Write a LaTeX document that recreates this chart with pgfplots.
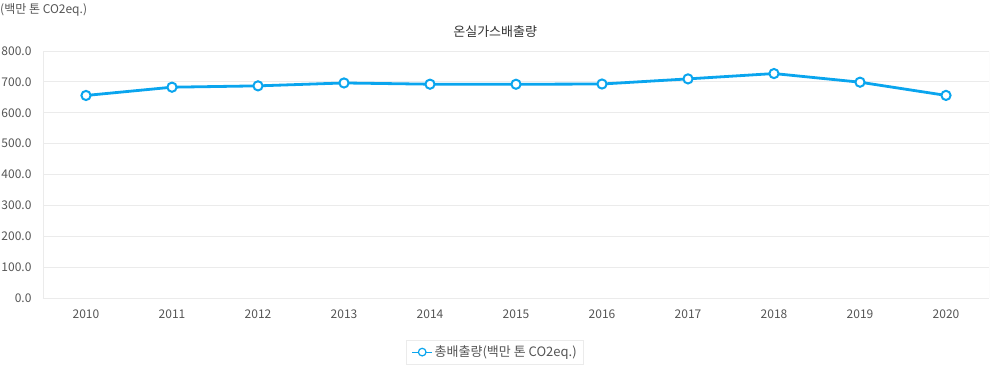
\documentclass[border=0pt]{standalone}
\usepackage{pgfplots}
\pgfplotsset{compat=1.18}
\usepackage{fontspec}
\setmainfont{Noto Sans CJK KR}
\definecolor{lineblue}{HTML}{0AA5EE}
\definecolor{txt}{HTML}{555555}
\definecolor{gridc}{HTML}{EBEBEB}
\begin{document}
\begin{tikzpicture}[x=1pt,y=1pt]
\path[use as bounding box] (0,0) rectangle (990,-368);
\node[anchor=west,text=txt,font=\fontsize{12}{14}\selectfont,inner sep=0pt] at (0,-10) {(백만 톤 CO2eq.)};
\begin{axis}[
  at={(43pt,-298pt)}, anchor=south west,
  scale only axis, width=946pt, height=247pt,
  xmin=-0.5, xmax=10.5, ymin=0, ymax=800,
  xtick={0,...,10},
  xticklabels={2010,2011,2012,2013,2014,2015,2016,2017,2018,2019,2020},
  ytick={0,100,...,800},
  /pgf/number format/fixed,
  /pgf/number format/fixed zerofill,
  /pgf/number format/precision=1,
  /pgf/number format/assume math mode=true,
  tick label style={text=txt,font=\fontsize{12}{14}\selectfont},
  xticklabel style={yshift=-8pt},
  yticklabel style={xshift=-8pt},
  major tick length=0pt,
  ymajorgrids, grid style={gridc,line width=0.8pt},
  axis line style={gridc,line width=0.8pt},
  separate axis lines,
  y axis line style={draw=none},
  x axis line style={gridc},
  axis x line*=bottom,
  title={온실가스배출량},
  title style={text=txt!60!black,font=\fontsize{13}{15}\selectfont,at={(0.478,1)},yshift=4pt},
  legend style={at={(0.478,-0.219)},anchor=center,draw=gridc,line width=0.8pt,
    font=\fontsize{13}{15}\selectfont,text=txt,inner xsep=5pt,inner ysep=4pt},
  legend cell align=left,
  legend image code/.code={
    \draw[lineblue,line width=1pt] (0pt,0pt) -- (20pt,0pt);
    \draw[lineblue,line width=1.2pt,fill=white] (10pt,0pt) circle (3.8pt);
  },
]
\addplot[lineblue,line width=2.8pt,mark=*,mark size=4.6pt,
  mark options={fill=white,draw=lineblue,line width=2pt}]
  coordinates {(0,656.0)(1,682.8)(2,687.1)(3,696.5)(4,692.5)(5,692.3)(6,693.1)(7,709.7)(8,727.0)(9,699.0)(10,656.2)};
\addlegendentry{총배출량(백만 톤 CO2eq.)}
\draw[gridc,line width=0.8pt] (rel axis cs:0,0) -- (rel axis cs:0,1);
\draw[gridc,line width=0.8pt] (rel axis cs:1,0) -- (rel axis cs:1,1);
\end{axis}
\end{tikzpicture}
\end{document}
